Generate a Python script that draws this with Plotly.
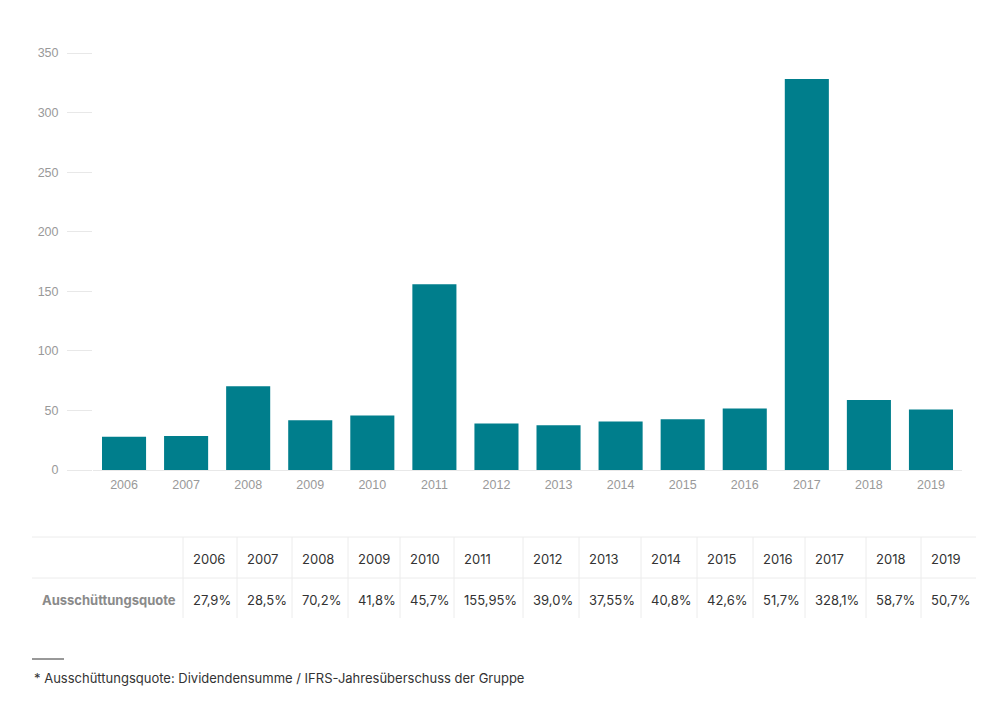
import plotly.graph_objects as go

years = ["2006", "2007", "2008", "2009", "2010", "2011", "2012", "2013",
         "2014", "2015", "2016", "2017", "2018", "2019"]
values = [27.9, 28.5, 70.2, 41.8, 45.7, 155.95, 39.0, 37.55, 40.8, 42.6,
          51.7, 328.1, 58.7, 50.7]
table_values = ["27,9%", "28,5%", "70,2%", "41,8%", "45,7%", "155,95%", "39,0%",
                "37,55%", "40,8%", "42,6%", "51,7%", "328,1%", "58,7%", "50,7%"]
row_label = "Ausschüttungsquote"
footnote = "* Ausschüttungsquote: Dividendensumme / IFRS-Jahresüberschuss der Gruppe"
y_ticks = [0, 50, 100, 150, 200, 250, 300, 350]

OFF = 8  # page body margin
W, H = 1000 - 2 * OFF, 706 - 2 * OFF
L, T = 93 - OFF, 53 - OFF
R = W - (962 - OFF)
B = H - (470 - OFF)
PW, PH = W - L - R, H - T - B


def px(x):
    return (x - OFF - L) / PW


def py(y):
    return (H - B - (y - OFF)) / PH


fig = go.Figure()
fig.add_trace(go.Bar(x=years, y=values, marker_color="#007e8c",
                     marker_line_width=0, hoverinfo="x+y"))

# table layout (screen pixel boundaries)
col_edges = [32, 183, 237, 292, 348, 400, 454, 523, 579, 641, 697, 753, 805, 866, 921, 976]
row_top, row_mid, row_bot = 537, 578, 618
line_col = "#ececec"

shapes = []
shapes.append(dict(type="line", xref="paper", yref="paper", x0=px(32), x1=px(976),
                   y0=py(row_top), y1=py(row_top), line=dict(color=line_col, width=1)))
shapes.append(dict(type="line", xref="paper", yref="paper", x0=px(32), x1=px(976),
                   y0=py(row_mid), y1=py(row_mid), line=dict(color=line_col, width=1)))
for e in col_edges[1:-1]:
    shapes.append(dict(type="line", xref="paper", yref="paper", x0=px(e), x1=px(e),
                       y0=py(row_top), y1=py(row_bot), line=dict(color=line_col, width=1)))
# footnote rule
shapes.append(dict(type="line", xref="paper", yref="paper", x0=px(32), x1=px(64),
                   y0=py(659), y1=py(659), line=dict(color="#333333", width=1)))

annotations = []
tfont = dict(family="Inter, Noto Sans, sans-serif", size=13, color="#333333")
for i, yr in enumerate(years):
    x0 = col_edges[i + 1] + 8
    annotations.append(dict(x=px(x0), y=py(559), xref="paper", yref="paper", text=yr,
                            showarrow=False, xanchor="left", yanchor="middle", font=tfont))
    annotations.append(dict(x=px(x0), y=py(600), xref="paper", yref="paper",
                            text=table_values[i], showarrow=False, xanchor="left",
                            yanchor="middle", font=tfont))
annotations.append(dict(x=px(40), y=py(600), xref="paper", yref="paper",
                        text="<b>" + row_label + "</b>", showarrow=False, xanchor="left",
                        yanchor="middle",
                        font=dict(family="Inter, Noto Sans, sans-serif", size=13, color="#8a8a8a")))
annotations.append(dict(x=px(32), y=py(678), xref="paper", yref="paper", text=footnote,
                        showarrow=False, xanchor="left", yanchor="middle",
                        font=dict(family="Inter, Noto Sans, sans-serif", size=13, color="#333333")))

fig.update_layout(
    width=W, height=H,
    margin=dict(l=L, r=R, t=T, b=B, pad=0),
    paper_bgcolor="white", plot_bgcolor="white",
    bargap=0.29,
    showlegend=False,
    shapes=shapes,
    annotations=annotations,
    font=dict(family="Liberation Sans, Arial, sans-serif", size=12, color="#999999"),
    xaxis=dict(showgrid=False, zeroline=False, showline=True, linecolor="#e8e8e8",
               linewidth=1, ticks="", tickfont=dict(size=12.5, color="#999999"),
               ticklabelstandoff=3, fixedrange=True),
    yaxis=dict(range=[0, 350], tickvals=y_ticks, showgrid=False, zeroline=False,
               showline=False, ticks="outside", ticklen=25, tickcolor="#e8e8e8",
               tickwidth=1, tickfont=dict(size=12.5, color="#999999"),
               ticklabelstandoff=6, fixedrange=True),
)

fig.write_html("out.html")
